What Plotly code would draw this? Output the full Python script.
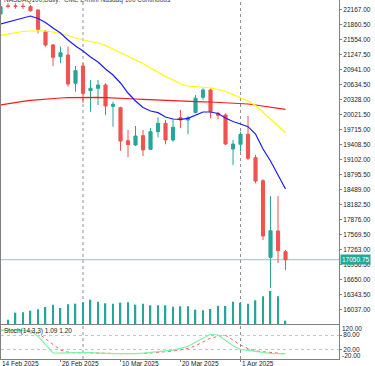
import plotly.graph_objects as go

# ---------------- data ----------------
dates = ["2025-02-14", "2025-02-17", "2025-02-18", "2025-02-19", "2025-02-20", "2025-02-21",
         "2025-02-24", "2025-02-25", "2025-02-26", "2025-02-27", "2025-02-28",
         "2025-03-03", "2025-03-04", "2025-03-05", "2025-03-06", "2025-03-07",
         "2025-03-10", "2025-03-11", "2025-03-12", "2025-03-13", "2025-03-14",
         "2025-03-17", "2025-03-18", "2025-03-19", "2025-03-20", "2025-03-21",
         "2025-03-24", "2025-03-25", "2025-03-26", "2025-03-27", "2025-03-28",
         "2025-03-31", "2025-04-01", "2025-04-02", "2025-04-03", "2025-04-04",
         "2025-04-07", "2025-04-08", "2025-04-09"]

open_ = [22071, 22234, 22236, 22232, 22220, 22153, 21709, 21437, 21199, 21233, 20655,
         21009, 20504, 20553, 20620, 20185, 20157, 19482, 19394, 19585, 19307,
         19666, 19838, 19497, 19952, 19905, 20055, 20369, 20518, 20042, 20008,
         19313, 19409, 19613, 19135, 18665, 17100, 17638, 17215]
high = [22255, 22290, 22290, 22290, 22255, 22167, 21744, 21458, 21403, 21403, 21009,
        21064, 20723, 20723, 20655, 20279, 20177, 19701, 19783, 19701, 19742,
        19961, 19905, 19920, 20110, 19987, 20416, 20553, 20553, 20075, 20042,
        19497, 19666, 19987, 19190, 18694, 18353, 18353, 17250]
low = [22050, 22187, 22180, 22170, 22118, 21677, 21403, 21009, 21064, 20586, 20484,
       20253, 20075, 20212, 20008, 19769, 19278, 19143, 19374, 19170, 19293,
       19552, 19409, 19462, 19736, 19613, 20042, 20314, 19940, 19920, 19394,
       18986, 19258, 19088, 18612, 17454, 16473, 16984, 16841]
close = [22220, 22230, 22228, 22224, 22138, 21758, 21437, 21186, 21280, 20641, 20913,
         20451, 20553, 20620, 20191, 20226, 19476, 19401, 19578, 19293, 19666,
         19838, 19497, 19756, 19905, 19952, 20349, 20518, 20075, 20001, 19415,
         19415, 19613, 19123, 18659, 17535, 17644, 17235, 17050.75]

ma_fast = [21867, 21908, 21948, 21989, 22030, 21979, 21897, 21785, 21683, 21540, 21417,
           21315, 21192, 21090, 20947, 20825, 20661, 20457, 20294, 20161, 20089,
           20055, 19967, 19926, 19920, 19940, 20007, 20069, 20069, 20038, 19946,
           19875, 19824, 19769, 19619, 19313, 19068, 18782, 18496]
ma_mid = [21632, 21662, 21683, 21713, 21724, 21728, 21724, 21703, 21673, 21632, 21581,
          21540, 21509, 21479, 21427, 21356, 21284, 21213, 21141, 21060, 20968,
          20876, 20794, 20723, 20641, 20600, 20590, 20573, 20559, 20528, 20488,
          20426, 20365, 20294, 20202, 20069, 19926, 19783, 19646]
ma_slow = [20212, 20242, 20267, 20287, 20308, 20322, 20334, 20345, 20355, 20361, 20365,
           20369, 20369, 20367, 20363, 20359, 20353, 20345, 20334, 20326, 20318,
           20310, 20302, 20296, 20290, 20283, 20279, 20277, 20273, 20267, 20259,
           20253, 20247, 20232, 20212, 20191, 20171, 20146, 20124]

volume_k = [None, 13, 34, 35, 40, 44, 51, 58, 48, 59, 61,
            65, 73, 67, 62, 61, 64, 65, 58, 61, 56,
            56, 56, 52, 53, 53, 43, 41, 45, 55, 54,
            67, 64, 61, 71, 83, 99, 83, 10]

stoch_k = [100, 100, 100, 100, 98, 75, 40, 5, 4, 4, 6,
           7.5, 5, 3, 3, 2, 1, 1, 2, 4, 7,
           10, 13, 17, 24, 33, 50, 68, 83, 80, 58,
           35, 20, 15, 10, 5, 3, 2, 1.09]
stoch_d = [100, 100, 100, 100, 99, 88, 65, 40, 17, 8, 5,
           6, 6, 5, 4, 3, 2, 1.5, 1.5, 2.5, 4.5,
           7, 10, 13, 18, 24, 35, 50, 67, 74, 79,
           58, 38, 23, 14, 10, 6, 3.5, 1.2]

price_ticks = [16037.0, 16343.5, 16650.0, 16956.5, 17263.0, 17569.5, 17876.0, 18182.5,
               18489.0, 18795.5, 19102.0, 19408.5, 19715.0, 20021.5, 20328.0, 20634.5,
               20941.0, 21247.5, 21554.0, 21860.5, 22167.0]
stoch_ticks = [80, 20]
stoch_edge_ticks = [120, -20]
date_tick_dates = ["2025-02-14", "2025-02-26", "2025-03-10", "2025-03-20", "2025-04-01"]
date_tick_text = ["14 Feb 2025", "26 Feb 2025", "10 Mar 2025", "20 Mar 2025", "1 Apr 2025"]
separator_dates = ["2025-03-03", "2025-04-01"]

title_text = "NASDAQ100,Daily:  CME E-mini Nasdaq 100 Continuous"
stoch_title = "Stoch(14,3,3) 1.09 1.20"

# ---------------- style ----------------
TEAL = "#26a69a"
RED = "#ef5350"
FONT = "Liberation Sans"
FS = 6.5
AX = "#808080"

fig = go.Figure()

fig.add_trace(go.Candlestick(
    x=dates, open=open_, high=high, low=low, close=close,
    increasing=dict(line=dict(color=TEAL, width=1), fillcolor=TEAL),
    decreasing=dict(line=dict(color=RED, width=1), fillcolor=RED),
    whiskerwidth=0, showlegend=False, hoverinfo="skip",
    xaxis="x", yaxis="y"))

for vals, col in [(ma_slow, "#ff1a1a"), (ma_mid, "#ffff00"), (ma_fast, "#1a1aff")]:
    fig.add_trace(go.Scatter(x=dates, y=vals, mode="lines",
                             line=dict(color=col, width=1.2),
                             showlegend=False, hoverinfo="skip",
                             xaxis="x", yaxis="y"))

fig.add_trace(go.Bar(x=dates, y=volume_k, width=0.2,
                     marker=dict(color=TEAL, line=dict(width=0)),
                     showlegend=False, hoverinfo="skip",
                     xaxis="x", yaxis="y3"))

fig.add_trace(go.Scatter(x=dates, y=stoch_d, mode="lines",
                         line=dict(color="#ff5a5a", width=1, dash="dot"),
                         showlegend=False, hoverinfo="skip",
                         xaxis="x2", yaxis="y2"))
fig.add_trace(go.Scatter(x=dates, y=stoch_k, mode="lines",
                         line=dict(color="#7cf5a8", width=1.2),
                         showlegend=False, hoverinfo="skip",
                         xaxis="x2", yaxis="y2"))

x_range = [0.0667, 45.13]
main_dom = [0.0975, 1.0]
stoch_dom = [0.0, 0.0947]

fig.update_layout(
    width=375, height=366,
    margin=dict(l=1, r=36, t=0, b=7),
    paper_bgcolor="white", plot_bgcolor="white",
    boxgap=0.4,
    font=dict(family=FONT, size=FS, color="#222"),
    xaxis=dict(type="category", range=x_range, domain=[0, 1], anchor="y",
               showticklabels=False, ticks="", showline=True, linecolor=AX,
               linewidth=1, showgrid=False, zeroline=False,
               rangeslider=dict(visible=False), fixedrange=True),
    xaxis2=dict(type="category", matches="x", range=x_range, anchor="y2",
                tickvals=date_tick_dates, ticks="outside", ticklen=2,
                tickcolor=AX, showticklabels=False, showline=True, mirror=True,
                linecolor=AX, linewidth=1, showgrid=False, zeroline=False),
    yaxis=dict(domain=main_dom, range=[15737.7, 22357], side="right",
               tickvals=price_ticks, ticktext=[f"{v:.2f}" for v in price_ticks],
               ticks="outside", ticklen=2, tickcolor=AX, ticklabelstandoff=0,
               showline=True, mirror=True, linecolor=AX, linewidth=1,
               showgrid=False, zeroline=False, anchor="x",
               tickfont=dict(family=FONT, size=FS, color="#222")),
    yaxis3=dict(domain=main_dom, overlaying="y", range=[0, 972], visible=False),
    yaxis2=dict(domain=stoch_dom, range=[-20.5, 122], side="right", anchor="x2",
                tickvals=stoch_ticks, ticktext=[f"{v:.2f}" for v in stoch_ticks],
                ticks="outside", ticklen=2, tickcolor=AX, ticklabelstandoff=0,
                showline=True, mirror=True, linecolor=AX, linewidth=1,
                showgrid=True, gridcolor="#c4c4c4", griddash="dot", gridwidth=1,
                zeroline=False,
                tickfont=dict(family=FONT, size=FS, color="#222")),
)

shapes = []
for d in separator_dates:
    xi = dates.index(d)
    shapes.append(dict(type="line", xref="x", yref="paper", x0=xi, x1=xi, y0=0, y1=1,
                       line=dict(color="#909090", width=1, dash="dot"), layer="below"))
shapes.append(dict(type="line", xref="paper", yref="y", x0=0, x1=1,
                   y0=close[-1], y1=close[-1],
                   line=dict(color="#80cbc4", width=1), layer="below"))
fig.update_layout(shapes=shapes)

ann = []
for d, t in zip(date_tick_dates, date_tick_text):
    ann.append(dict(x=max(dates.index(d), x_range[0] + 0.01), xref="x2", y=0, yref="paper",
                    yanchor="top", xanchor="left", text=t, showarrow=False, xshift=0,
                    font=dict(family=FONT, size=FS, color="#222"), borderpad=0, yshift=0))
ann.append(dict(x=1, xref="paper", y=close[-1], yref="y", xanchor="left", yanchor="middle",
                text=f"{close[-1]:.2f}", showarrow=False, bgcolor=TEAL, borderpad=1,
                xshift=1, font=dict(family=FONT, size=FS, color="white")))
for v, ys in zip(stoch_edge_ticks, [-3, 3]):
    ann.append(dict(x=1, xref="paper", y=v, yref="y2", xanchor="left", yanchor="middle",
                    text=f"{v:.2f}", showarrow=False, xshift=2, yshift=ys, borderpad=0,
                    font=dict(family=FONT, size=FS, color="#222")))
ann.append(dict(x=0, xref="paper", y=1, yref="paper", xanchor="left", yanchor="middle",
                text=title_text, showarrow=False, xshift=2, yshift=0, borderpad=0,
                font=dict(family=FONT, size=FS, color="#444")))
ann.append(dict(x=0, xref="paper", y=stoch_dom[1], yref="paper", xanchor="left",
                yanchor="top", text=stoch_title, showarrow=False, xshift=2, yshift=-1,
                borderpad=0, font=dict(family=FONT, size=FS, color="#222")))
fig.update_layout(annotations=ann)

fig.write_html("out.html", config={"displayModeBar": False},
               post_script="document.body.style.margin='0';document.body.style.padding='0';")
